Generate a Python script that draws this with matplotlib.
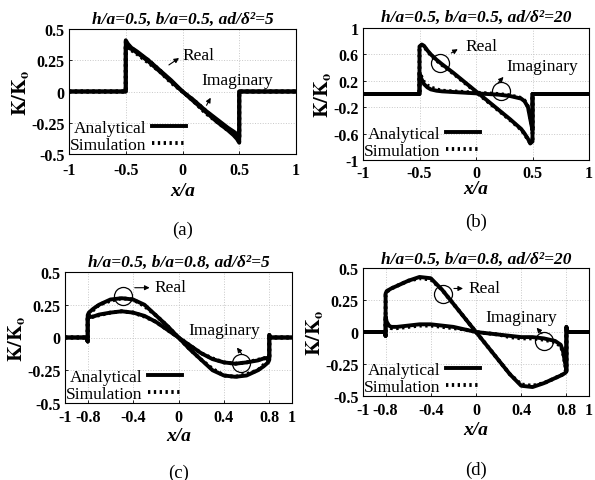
import matplotlib

matplotlib.use("Agg", force=True)

import matplotlib.pyplot as plt
from matplotlib.lines import Line2D

plt.rcParams["font.family"] = ["Liberation Serif", "DejaVu Serif"]
plt.rcParams["mathtext.fontset"] = "stix"

# ---- panel (a): h/a=0.5, b/a=0.5, ad/d^2=5
x_a = [-1, -0.5, -0.5, -0.48, -0.45, -0.4, -0.3, -0.2, -0.1, 0, 0.1, 0.2, 0.3, 0.4, 0.45, 0.48, 0.5, 0.5, 1]
real_a = [0, 0, 0.41, 0.38, 0.35, 0.32, 0.25, 0.17, 0.09, 0.0, -0.08, -0.16, -0.24, -0.31, -0.35, -0.38, -0.41, 0, 0]
imag_a = [0, 0, 0.36, 0.35, 0.34, 0.31, 0.24, 0.16, 0.08, 0.0, -0.07, -0.15, -0.22, -0.29, -0.32, -0.34, -0.36, 0, 0]
real_a_sim = [0, 0, 0.40, 0.37, 0.35, 0.31, 0.25, 0.17, 0.08, 0.0, -0.08, -0.17, -0.24, -0.31, -0.34, -0.37, -0.40, 0, 0]
imag_a_sim = [0, 0, 0.37, 0.36, 0.33, 0.30, 0.23, 0.16, 0.07, 0.0, -0.07, -0.15, -0.23, -0.30, -0.33, -0.35, -0.37, 0, 0]

# ---- panel (b): h/a=0.5, b/a=0.5, ad/d^2=20
x_b = [-1, -0.5, -0.5, -0.48, -0.46, -0.43, -0.4, -0.35, -0.3, -0.2, -0.1, 0, 0.1, 0.2, 0.3, 0.4, 0.43, 0.46, 0.48, 0.5, 0.5, 1]
real_b = [0, 0, 0.72, 0.75, 0.73, 0.66, 0.6, 0.52, 0.45, 0.32, 0.18, 0.04, -0.1, -0.24, -0.38, -0.53, -0.6, -0.68, -0.75, -0.72, 0, 0]
imag_b = [0, 0, 0.30, 0.22, 0.15, 0.10, 0.07, 0.05, 0.04, 0.03, 0.02, 0.01, 0.0, -0.01, -0.03, -0.07, -0.11, -0.2, -0.38, -0.55, 0, 0]
real_b_sim = [0, 0, 0.70, 0.74, 0.72, 0.65, 0.59, 0.51, 0.44, 0.31, 0.17, 0.03, -0.11, -0.25, -0.39, -0.54, -0.61, -0.69, -0.74, -0.70, 0, 0]
imag_b_sim = [0, 0, 0.33, 0.25, 0.18, 0.13, 0.10, 0.07, 0.05, 0.04, 0.03, 0.02, 0.01, 0.0, -0.02, -0.06, -0.10, -0.19, -0.36, -0.52, 0, 0]

# ---- panel (c): h/a=0.5, b/a=0.8, ad/d^2=5
x_c = [-1, -0.81, -0.8, -0.8, -0.79, -0.75, -0.7, -0.6, -0.5, -0.4, -0.3, -0.2, -0.1, 0, 0.1, 0.2, 0.3, 0.4, 0.5, 0.6, 0.7, 0.75, 0.79, 0.8, 0.8, 0.81, 1]
real_c = [0, 0, -0.03, 0.17, 0.19, 0.22, 0.25, 0.29, 0.30, 0.29, 0.25, 0.17, 0.09, 0, -0.09, -0.17, -0.25, -0.29, -0.30, -0.29, -0.25, -0.22, -0.19, -0.17, 0.02, 0, 0]
imag_c = [0, 0, -0.03, 0.15, 0.155, 0.16, 0.175, 0.19, 0.20, 0.19, 0.165, 0.12, 0.06, 0, -0.06, -0.12, -0.165, -0.19, -0.20, -0.19, -0.175, -0.16, -0.155, -0.15, 0.02, 0, 0]
real_c_sim = [0, 0, -0.03, 0.16, 0.18, 0.21, 0.25, 0.28, 0.30, 0.29, 0.24, 0.17, 0.09, 0, -0.09, -0.17, -0.24, -0.29, -0.30, -0.28, -0.25, -0.21, -0.18, -0.16, 0.02, 0, 0]
imag_c_sim = [0, 0, -0.03, 0.14, 0.15, 0.16, 0.17, 0.19, 0.20, 0.19, 0.16, 0.12, 0.06, 0, -0.06, -0.12, -0.16, -0.19, -0.20, -0.19, -0.17, -0.16, -0.15, -0.14, 0.02, 0, 0]

# ---- panel (d): h/a=0.5, b/a=0.8, ad/d^2=20
x_d = [-1, -0.81, -0.8, -0.8, -0.79, -0.77, -0.75, -0.7, -0.6, -0.5, -0.4, -0.3, -0.2, -0.1, 0, 0.1, 0.2, 0.3, 0.4, 0.5, 0.6, 0.7, 0.75, 0.77, 0.79, 0.8, 0.8, 0.81, 1]
real_d = [0, 0, -0.03, 0.30, 0.32, 0.33, 0.34, 0.36, 0.40, 0.43, 0.42, 0.33, 0.22, 0.11, 0.0, -0.11, -0.22, -0.33, -0.42, -0.43, -0.40, -0.36, -0.34, -0.33, -0.32, -0.30, 0.04, 0, 0]
imag_d = [0, 0, -0.03, 0.12, 0.08, 0.05, 0.04, 0.04, 0.05, 0.06, 0.06, 0.05, 0.04, 0.02, 0.0, -0.01, -0.02, -0.03, -0.04, -0.04, -0.05, -0.07, -0.10, -0.15, -0.25, -0.30, 0.04, 0, 0]
real_d_sim = [0, 0, -0.03, 0.29, 0.31, 0.33, 0.34, 0.36, 0.40, 0.42, 0.41, 0.33, 0.22, 0.11, 0.0, -0.11, -0.22, -0.33, -0.41, -0.42, -0.40, -0.36, -0.34, -0.33, -0.31, -0.29, 0.04, 0, 0]
imag_d_sim = [0, 0, -0.03, 0.10, 0.06, 0.04, 0.03, 0.03, 0.04, 0.05, 0.05, 0.04, 0.03, 0.02, 0.0, -0.01, -0.02, -0.04, -0.05, -0.05, -0.06, -0.08, -0.11, -0.16, -0.26, -0.31, 0.04, 0, 0]

titles = [
    "h/a=0.5, b/a=0.5, ad/δ²=5",
    "h/a=0.5, b/a=0.5, ad/δ²=20",
    "h/a=0.5, b/a=0.8, ad/δ²=5",
    "h/a=0.5, b/a=0.8, ad/δ²=20",
]
captions = ["(a)", "(b)", "(c)", "(d)"]
xticks_ab = [-1, -0.5, 0, 0.5, 1]
xticklabels_ab = ["-1", "-0.5", "0", "0.5", "1"]
xticks_cd = [-1, -0.8, -0.4, 0, 0.4, 0.8, 1]
xticklabels_cd = ["-1", "-0.8", "-0.4", "0", "0.4", "0.8", "1"]
yticks_05 = [-0.5, -0.25, 0, 0.25, 0.5]
yticklabels_05 = ["-0.5", "-0.25", "0", "0.25", "0.5"]
yticks_1 = [-1, -0.6, -0.2, 0.2, 0.6, 1]
yticklabels_1 = ["-1", "-0.6", "-0.2", "0.2", "0.6", "1"]

W, H = 595, 481


def px_rect(left, top, right, bottom):
    return [left / W, 1 - bottom / H, (right - left) / W, (bottom - top) / H]


fig = plt.figure(figsize=(W / 100, H / 100), dpi=100)

panels = [
    dict(rect=px_rect(69, 30, 296, 155), x=x_a, re=real_a, im=imag_a, res=real_a_sim, ims=imag_a_sim,
         ylim=(-0.5, 0.5), yt=(yticks_05, yticklabels_05), xt=(xticks_ab, xticklabels_ab),
         xpad=6, title_y=20, xlabel_y=192, cap_y=230),
    dict(rect=px_rect(363, 29, 589, 161), x=x_b, re=real_b, im=imag_b, res=real_b_sim, ims=imag_b_sim,
         ylim=(-1, 1), yt=(yticks_1, yticklabels_1), xt=(xticks_ab, xticklabels_ab),
         xpad=3.5, title_y=18, xlabel_y=190, cap_y=222),
    dict(rect=px_rect(65, 273, 292, 404), x=x_c, re=real_c, im=imag_c, res=real_c_sim, ims=imag_c_sim,
         ylim=(-0.5, 0.5), yt=(yticks_05, yticklabels_05), xt=(xticks_cd, xticklabels_cd),
         xpad=4.5, title_y=263, xlabel_y=437, cap_y=473),
    dict(rect=px_rect(363, 269, 589, 397), x=x_d, re=real_d, im=imag_d, res=real_d_sim, ims=imag_d_sim,
         ylim=(-0.5, 0.5), yt=(yticks_05, yticklabels_05), xt=(xticks_cd, xticklabels_cd),
         xpad=4.5, title_y=260, xlabel_y=431, cap_y=470),
]

# annotation layout: (circle xy or None, arrow start, arrow end, text xy) for Real / Imaginary
notes = [
    [(None, (-0.14, 0.20), (-0.01, 0.28), (0.0, 0.29)),
     (None, (0.20, -0.13), (0.26, -0.03), (0.17, 0.09))],
    [((-0.32, 0.47), (-0.24, 0.60), (-0.14, 0.70), (-0.09, 0.73)),
     ((0.22, 0.05), (0.18, 0.14), (0.26, 0.29), (0.27, 0.42))],
    [((-0.49, 0.32), (-0.41, 0.38), (-0.23, 0.38), (-0.21, 0.385)),
     ((0.55, -0.195), (0.57, -0.14), (0.50, -0.06), (0.09, 0.06))],
    [((-0.29, 0.30), (-0.22, 0.34), (-0.09, 0.34), (-0.07, 0.34)),
     ((0.60, -0.07), (0.60, -0.03), (0.52, 0.05), (0.08, 0.12))],
]

tick_font = dict(family="Liberation Serif", weight="bold", size=11.5)
LW = 2.8
DOTS = (0, (0.6, 0.9))

for p, title, cap, note in zip(panels, titles, captions, notes):
    ax = fig.add_axes(p["rect"])
    ax.plot(p["x"], p["re"], color="black", lw=LW, solid_joinstyle="round")
    ax.plot(p["x"], p["im"], color="black", lw=LW, solid_joinstyle="round")
    ax.plot(p["x"], p["res"], color="black", lw=LW, ls=DOTS)
    ax.plot(p["x"], p["ims"], color="black", lw=LW, ls=DOTS)

    ax.set_xlim(-1, 1)
    ax.set_ylim(*p["ylim"])
    ax.set_xticks(p["xt"][0])
    ax.set_xticklabels(p["xt"][1], fontdict=tick_font)
    ax.set_yticks(p["yt"][0])
    ax.set_yticklabels(p["yt"][1], fontdict=tick_font)
    ax.tick_params(direction="in", length=2, width=0.6)
    ax.tick_params(axis="x", pad=p["xpad"])
    ax.tick_params(axis="y", pad=3)
    ax.grid(True, color="#c8c8c8", ls=":", lw=0.7)
    for spine in ax.spines.values():
        spine.set_linewidth(0.8)

    ax.set_ylabel(r"$\mathbf{K/K_o}$", fontsize=14.5, labelpad=0)

    cx = p["rect"][0] + p["rect"][2] / 2
    fig.text(cx, 1 - p["title_y"] / H, title, ha="center", va="center",
             fontsize=12.5, fontweight="bold", fontstyle="italic")
    fig.text(cx, 1 - p["xlabel_y"] / H, "x/a", ha="center", va="center",
             fontsize=14, fontweight="bold", fontstyle="italic")
    fig.text(cx, 1 - p["cap_y"] / H, cap, ha="center", va="center", fontsize=13.5)

    for label, (circ, a0, a1, txy) in zip(["Real", "Imaginary"], note):
        if circ is not None:
            ax.plot([circ[0]], [circ[1]], "o", mfc="none", mec="black", ms=13, mew=0.9)
        ax.annotate("", xy=a1, xytext=a0,
                    arrowprops=dict(arrowstyle="-|>", color="black", lw=0.8, mutation_scale=7))
        ax.text(txy[0], txy[1], label, ha="left", va="center", fontsize=12.5)

    handles = [Line2D([], [], color="black", lw=LW),
               Line2D([], [], color="black", lw=LW, ls=DOTS)]
    ax.legend(handles, ["Analytical", "Simulation"], loc="lower left", markerfirst=False,
              frameon=False, fontsize=12.5, handlelength=2.0, handletextpad=0.3,
              labelspacing=0.05, borderaxespad=0.0, borderpad=0.05)

fig.savefig("out.png", dpi=100)
